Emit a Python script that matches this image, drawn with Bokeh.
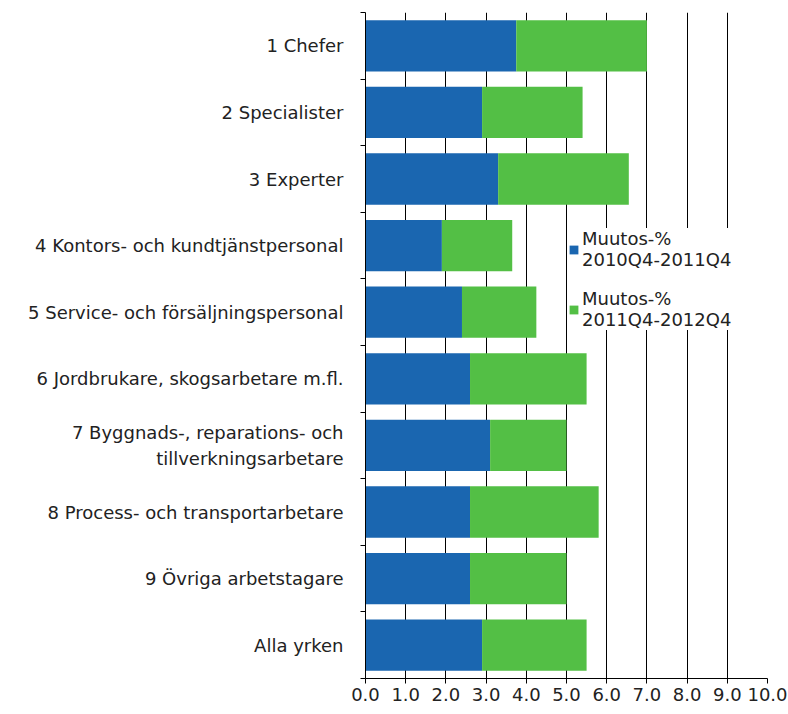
from bokeh.plotting import figure
from bokeh.models import FixedTicker, NumeralTickFormatter, Legend, LegendItem, Range1d
from bokeh.embed import file_html
from bokeh.resources import INLINE

categories = [
    "1 Chefer",
    "2 Specialister",
    "3 Experter",
    "4 Kontors- och kundtjänstpersonal",
    "5 Service- och försäljningspersonal",
    "6 Jordbrukare, skogsarbetare m.fl.",
    "7 Byggnads-, reparations- och\ntillverkningsarbetare",
    "8 Process- och transportarbetare",
    "9 Övriga arbetstagare",
    "Alla yrken",
]
change_2010_2011 = [3.75, 2.9, 3.3, 1.9, 2.4, 2.6, 3.1, 2.6, 2.6, 2.9]
change_2011_2012 = [3.25, 2.5, 3.25, 1.75, 1.85, 2.9, 1.9, 3.2, 2.4, 2.6]
series_labels = ["Muutos-%\n2010Q4-2011Q4", "Muutos-%\n2011Q4-2012Q4"]
x_ticks = [0, 1, 2, 3, 4, 5, 6, 7, 8, 9, 10]

BLUE = "#1A66B0"
GREEN = "#53BF45"
FONT = "DejaVu Sans"
FS = "18px"

n = len(categories)
ypos = [n - 1 - i + 0.5 for i in range(n)]
totals = [a + b for a, b in zip(change_2010_2011, change_2011_2012)]

p = figure(
    frame_width=402, frame_height=666,
    x_range=Range1d(0, 10), y_range=Range1d(0, n),
    output_backend="svg", toolbar_location=None,
    min_border_left=365, min_border_top=12, min_border_right=21, min_border_bottom=30,
)
p.outline_line_color = None
p.background_fill_color = "white"

r1 = p.hbar(y=ypos, left=0, right=change_2010_2011, height=0.77,
            fill_color=BLUE, line_color=None)
r2 = p.hbar(y=ypos, left=change_2010_2011, right=totals, height=0.77,
            fill_color=GREEN, line_color=None)

# x axis
p.xaxis.ticker = FixedTicker(ticks=x_ticks)
p.xaxis.formatter = NumeralTickFormatter(format="0.0")
p.xaxis.major_tick_out = 5
p.xaxis.major_tick_in = 0
p.xaxis.minor_tick_out = 0
p.xaxis.major_label_standoff = 4
p.xaxis.axis_line_color = "black"
p.xaxis.major_tick_line_color = "black"
p.xaxis.major_label_text_font = FONT
p.xaxis.major_label_text_font_size = FS
p.xaxis.major_label_text_color = "#222222"

# y axis: labels at centres, ticks at boundaries
p.yaxis.ticker = FixedTicker(ticks=ypos, minor_ticks=list(range(n + 1)))
p.yaxis.major_label_overrides = {y: c for y, c in zip(ypos, categories)}
p.yaxis.major_tick_out = 0
p.yaxis.major_tick_in = 0
p.yaxis.minor_tick_out = 5
p.yaxis.minor_tick_in = 0
p.yaxis.minor_tick_line_color = "black"
p.yaxis.axis_line_color = "black"
p.yaxis.major_label_standoff = 17
p.yaxis.major_label_text_font = FONT
p.yaxis.major_label_text_font_size = FS
p.yaxis.major_label_text_color = "#222222"
p.yaxis.major_label_text_align = "right"

# grid
p.xgrid.ticker = FixedTicker(ticks=x_ticks)
p.xgrid.grid_line_color = "black"
p.xgrid.grid_line_width = 1
p.ygrid.grid_line_color = None

legend = Legend(
    items=[LegendItem(label=series_labels[0], renderers=[r1]),
           LegendItem(label=series_labels[1], renderers=[r2])],
    location=(203, 348),
    label_text_font=FONT, label_text_font_size=FS, label_text_color="#222222",
    glyph_width=11, glyph_height=11, label_standoff=3,
    spacing=18, padding=9, margin=0,
    border_line_color=None, background_fill_color="white", background_fill_alpha=1.0,
)
p.add_layout(legend)

open("out.html", "w").write(file_html(p, INLINE))
